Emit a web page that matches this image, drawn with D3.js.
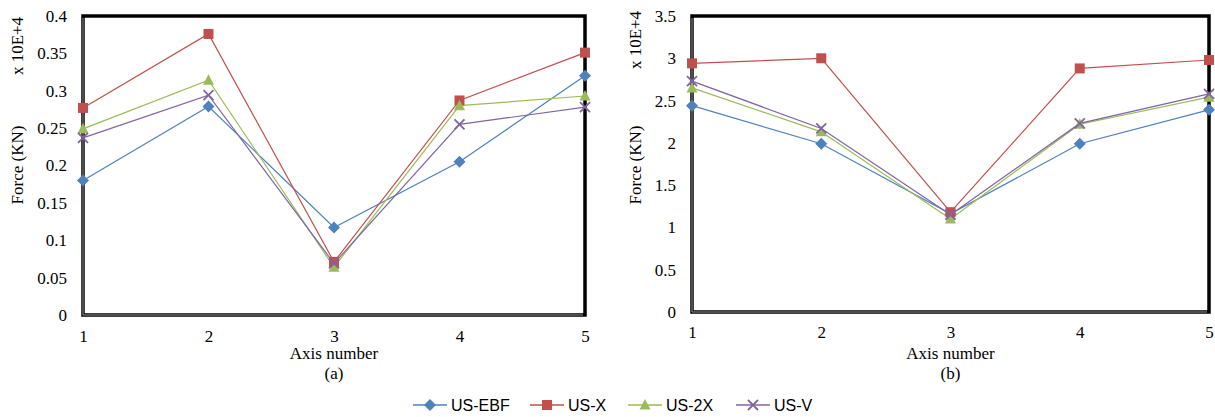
<!DOCTYPE html>
<html>
<head>
<meta charset="utf-8">
<script src="https://cdn.jsdelivr.net/npm/d3@7"></script>
<style>
  body { margin: 0; background: #fff; }
  svg text { fill: #000; }
</style>
</head>
<body>
<div id="chart"></div>
<script>
// data
var axisNumbers = [1, 2, 3, 4, 5];
var seriesNames = ["US-EBF", "US-X", "US-2X", "US-V"];
var seriesColors = ["#4F81BD", "#C0504D", "#9BBB59", "#8064A2"];
var seriesMarkers = ["diamond", "square", "triangle", "cross"];

// panel (a), x 10E+4 KN
var a_EBF = [0.180, 0.279, 0.117, 0.205, 0.320];
var a_X   = [0.277, 0.376, 0.071, 0.287, 0.351];
var a_2X  = [0.249, 0.314, 0.064, 0.280, 0.293];
var a_V   = [0.237, 0.294, 0.069, 0.255, 0.278];
var a_ticks = [0, 0.05, 0.1, 0.15, 0.2, 0.25, 0.3, 0.35, 0.4];

// panel (b), x 10E+4 KN
var b_EBF = [2.44, 1.99, 1.16, 1.99, 2.39];
var b_X   = [2.94, 3.00, 1.18, 2.88, 2.98];
var b_2X  = [2.65, 2.13, 1.10, 2.22, 2.54];
var b_V   = [2.73, 2.17, 1.15, 2.23, 2.58];
var b_ticks = [0, 0.5, 1, 1.5, 2, 2.5, 3, 3.5];

var W = 1215, H = 417;
var serif = "'Liberation Serif', 'Times New Roman', serif";

var svg = d3.select("#chart").append("svg")
  .attr("width", W).attr("height", H);

function drawMarker(g, type, color, x, y) {
  if (type == "diamond") {
    g.append("path").attr("d", "M" + x + "," + (y - 6) + "L" + (x + 6) + "," + y + "L" + x + "," + (y + 6) + "L" + (x - 6) + "," + y + "Z")
      .attr("fill", color);
  } else if (type == "square") {
    g.append("rect").attr("x", x - 5).attr("y", y - 5)
      .attr("width", 10).attr("height", 10).attr("fill", color);
  } else if (type == "triangle") {
    g.append("path").attr("d", "M" + x + "," + (y - 6) + "L" + (x + 5.5) + "," + (y + 4.5) + "L" + (x - 5.5) + "," + (y + 4.5) + "Z")
      .attr("fill", color);
  } else {
    g.append("path").attr("d", "M" + (x - 5) + "," + (y - 5) + "L" + (x + 5) + "," + (y + 5) + "M" + (x - 5) + "," + (y + 5) + "L" + (x + 5) + "," + (y - 5))
      .attr("stroke", color).attr("stroke-width", 1.8).attr("fill", "none");
  }
}

function drawPanel(p) {
  var x = d3.scaleLinear().domain([1, 5]).range([p.left, p.right]);
  var y = d3.scaleLinear().domain([0, p.max]).range([p.bottom, p.top]);
  var g = svg.append("g");

  // frame: heavy black with a grey inner line on left/bottom
  g.append("rect")
    .attr("x", p.left).attr("y", p.top)
    .attr("width", p.right - p.left).attr("height", p.bottom - p.top)
    .attr("fill", "none").attr("stroke", "#000").attr("stroke-width", 3.5);
  g.append("path")
    .attr("d", "M" + p.left + "," + (p.top + 2) + "V" + p.bottom + "H" + (p.right - 2))
    .attr("fill", "none").attr("stroke", "#9a9a9a").attr("stroke-width", 1);

  // y axis
  var yAxis = g.append("g")
    .attr("transform", "translate(" + (p.left - 16) + ",0)")
    .call(d3.axisLeft(y).tickValues(p.ticks).tickSize(0).tickFormat(d3.format("~g")));
  yAxis.select(".domain").remove();
  yAxis.selectAll("text").style("font-family", serif).style("font-size", "17px").attr("x", 0);

  // x axis
  var xAxis = g.append("g")
    .attr("transform", "translate(0," + (p.xLabY) + ")")
    .call(d3.axisBottom(x).tickValues(axisNumbers).tickSize(0).tickFormat(d3.format("d")));
  xAxis.select(".domain").remove();
  xAxis.selectAll("text").style("font-family", serif).style("font-size", "17px").attr("y", 0).attr("dy", "0.35em");

  var mid = (p.left + p.right) / 2;
  g.append("text").attr("x", mid).attr("y", 359).attr("text-anchor", "middle")
    .style("font-family", serif).style("font-size", "17px").text("Axis number");
  g.append("text").attr("x", mid).attr("y", 379).attr("text-anchor", "middle")
    .style("font-family", serif).style("font-size", "17px").text(p.tag);

  g.append("text").attr("transform", "translate(" + (p.yTitleX) + "," + p.unitY + ") rotate(-90)")
    .attr("text-anchor", "middle").style("font-family", serif).style("font-size", "17px")
    .text("x 10E+4");
  g.append("text").attr("transform", "translate(" + (p.yTitleX) + ",165) rotate(-90)")
    .attr("text-anchor", "middle").style("font-family", serif).style("font-size", "17px")
    .text("Force (KN)");

  var line = d3.line().x(function(d, i) { return x(axisNumbers[i]); }).y(function(d) { return y(d); });

  p.series.forEach(function(vals, k) {
    g.append("path").datum(vals).attr("d", line)
      .attr("fill", "none").attr("stroke", seriesColors[k]).attr("stroke-width", 1.2);
  });
  p.series.forEach(function(vals, k) {
    vals.forEach(function(v, i) {
      drawMarker(g, seriesMarkers[k], seriesColors[k], x(axisNumbers[i]), y(v));
    });
  });
}

drawPanel({
  left: 83, right: 585, top: 16, bottom: 315, max: 0.4, ticks: a_ticks,
  series: [a_EBF, a_X, a_2X, a_V], tag: "(a)", xLabY: 336, yTitleX: 23, unitY: 46
});
drawPanel({
  left: 692, right: 1209, top: 16, bottom: 312, max: 3.5, ticks: b_ticks,
  series: [b_EBF, b_X, b_2X, b_V], tag: "(b)", xLabY: 332, yTitleX: 641, unitY: 40
});

// legend
var legendX = [413, 530, 628, 736];
var leg = svg.append("g");
seriesNames.forEach(function(name, k) {
  var lx = legendX[k], ly = 405;
  leg.append("line").attr("x1", lx).attr("x2", lx + 34).attr("y1", ly).attr("y2", ly)
    .attr("stroke", seriesColors[k]).attr("stroke-width", 1.5);
  drawMarker(leg, seriesMarkers[k], seriesColors[k], lx + 17, ly);
  leg.append("text").attr("x", lx + 38).attr("y", ly).attr("dy", "0.35em")
    .style("font-family", "'Liberation Sans', Arial, sans-serif").style("font-size", "16px")
    .text(name);
});
</script>
</body>
</html>
